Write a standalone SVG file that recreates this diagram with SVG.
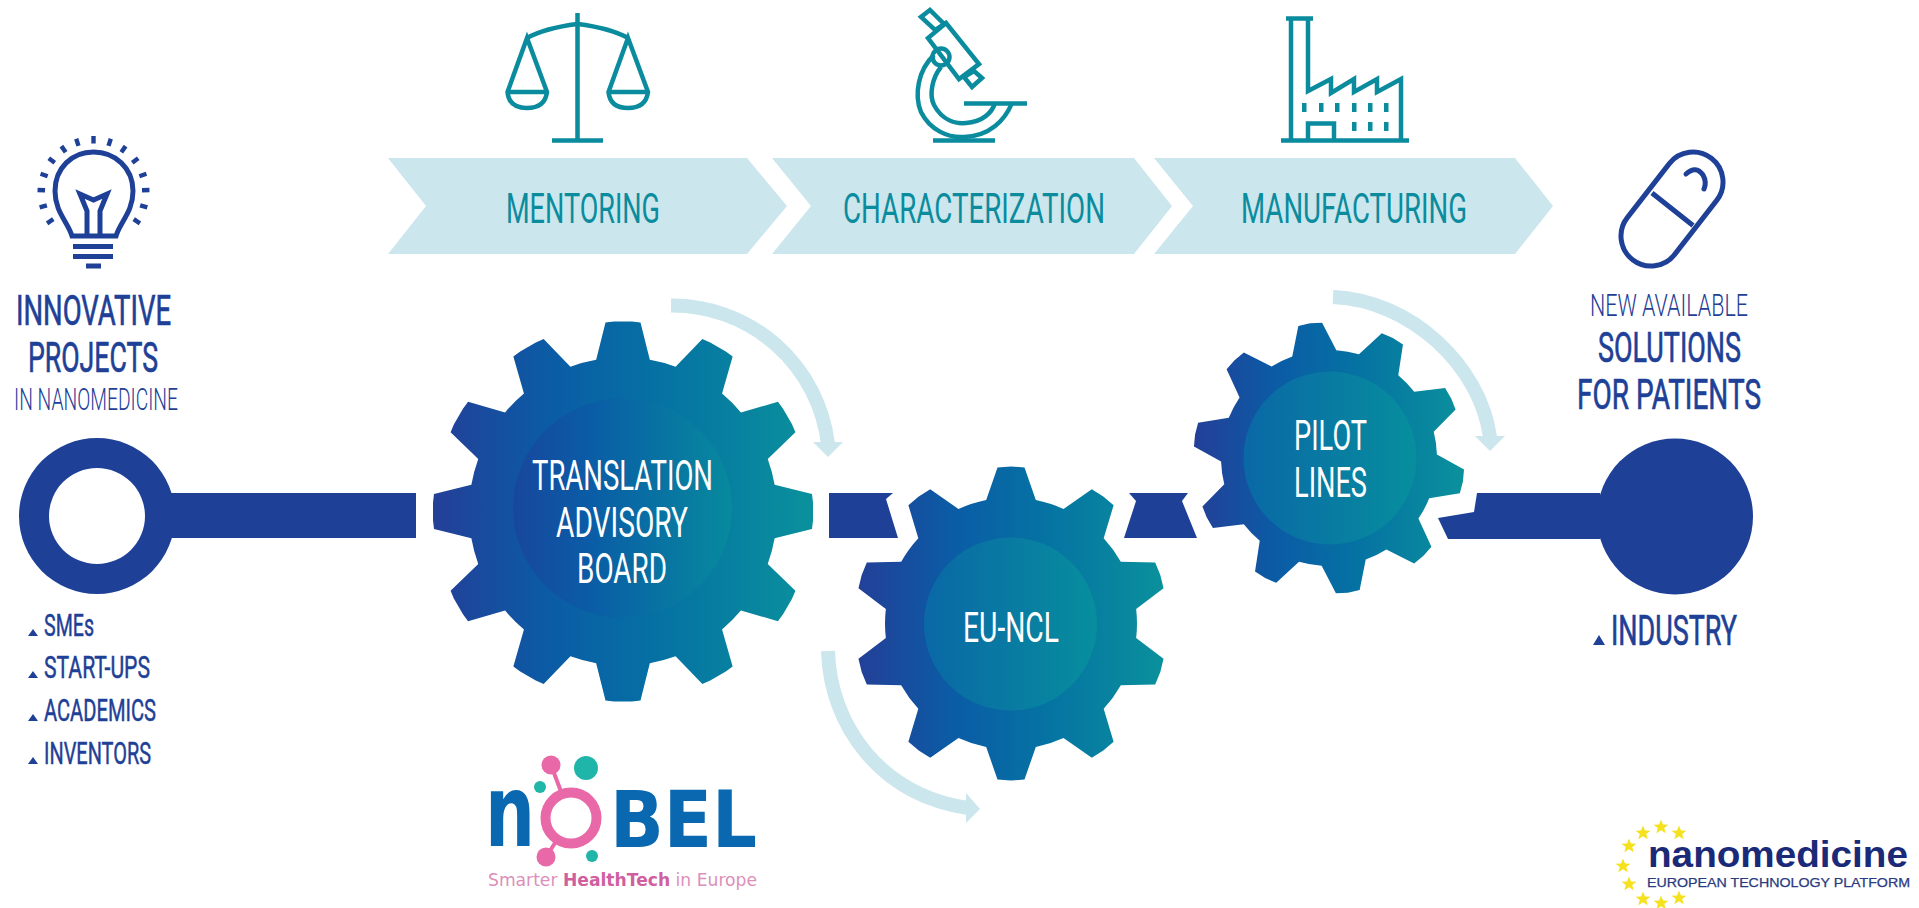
<svg xmlns="http://www.w3.org/2000/svg" width="1919" height="908" viewBox="0 0 1919 908">
<style>
text{font-family:Roboto,"Liberation Sans",sans-serif;text-anchor:middle}
.blue{fill:#1e4096}
.h1{fill:#1e4096;stroke:#1e4096;stroke-width:.7px;font-size:43px;font-weight:400}
.thin{fill:#1e4096;font-size:32px;font-weight:300}
.li{fill:#1e4096;stroke:#1e4096;stroke-width:.5px;font-size:32px;font-weight:400;text-anchor:start}
.step{fill:#0a8c9e;font-size:43px;font-weight:400}
.gear{fill:#fff;font-size:42px;font-weight:400}
.pale{fill:#cbe6ec}
.arc{fill:none;stroke:#cbe6ec;stroke-width:14}
.teal{fill:none;stroke:#0a8c9e;stroke-width:4.5}
.bl{fill:none;stroke:#1e4096;stroke-width:5}
</style>
<defs>
<linearGradient id="gr1" gradientUnits="userSpaceOnUse" x1="433" y1="0" x2="813" y2="0"><stop offset="0" stop-color="#243f98"/><stop offset=".3" stop-color="#0b5ba5"/><stop offset=".6" stop-color="#0572a3"/><stop offset="1" stop-color="#0a919c"/></linearGradient>
<linearGradient id="in1" gradientUnits="userSpaceOnUse" x1="513" y1="0" x2="732" y2="0"><stop offset="0" stop-color="#18479d"/><stop offset=".35" stop-color="#0a5ca6"/><stop offset="1" stop-color="#078a9e"/></linearGradient>
<linearGradient id="gr2" gradientUnits="userSpaceOnUse" x1="857" y1="0" x2="1165" y2="0"><stop offset="0" stop-color="#243f98"/><stop offset=".3" stop-color="#0b5ba5"/><stop offset=".6" stop-color="#0572a3"/><stop offset="1" stop-color="#0a919c"/></linearGradient>
<linearGradient id="in2" gradientUnits="userSpaceOnUse" x1="924" y1="0" x2="1097" y2="0"><stop offset="0" stop-color="#0a68a6"/><stop offset="1" stop-color="#078e9e"/></linearGradient>
<linearGradient id="gr3" gradientUnits="userSpaceOnUse" x1="1194" y1="0" x2="1464" y2="0"><stop offset="0" stop-color="#243f98"/><stop offset=".3" stop-color="#0b5ba5"/><stop offset=".6" stop-color="#0572a3"/><stop offset="1" stop-color="#0a919c"/></linearGradient>
<linearGradient id="in3" gradientUnits="userSpaceOnUse" x1="1244" y1="0" x2="1416" y2="0"><stop offset="0" stop-color="#0a68a6"/><stop offset="1" stop-color="#078e9e"/></linearGradient>
<polygon id="t1" points="-27,-151 -17.500,-189 -9,-190 9,-190 17.500,-189 27,-151"/>
<polygon id="t2" points="-25,-123 -13.500,-156 0,-157 13.500,-156 25,-123"/>
<polygon id="t3" points="-22.500,-105 -12,-135 0,-136 12,-135 22.500,-105"/>
<clipPath id="c1">
<circle cx="623" cy="511.500" r="154"/>
<use href="#t1" transform="translate(623 511.500)"/><use href="#t1" transform="translate(623 511.500) rotate(30)"/><use href="#t1" transform="translate(623 511.500) rotate(60)"/><use href="#t1" transform="translate(623 511.500) rotate(90)"/><use href="#t1" transform="translate(623 511.500) rotate(120)"/><use href="#t1" transform="translate(623 511.500) rotate(150)"/><use href="#t1" transform="translate(623 511.500) rotate(180)"/><use href="#t1" transform="translate(623 511.500) rotate(210)"/><use href="#t1" transform="translate(623 511.500) rotate(240)"/><use href="#t1" transform="translate(623 511.500) rotate(270)"/><use href="#t1" transform="translate(623 511.500) rotate(300)"/><use href="#t1" transform="translate(623 511.500) rotate(330)"/>
</clipPath>
<clipPath id="c2">
<circle cx="1011" cy="623.500" r="126"/>
<use href="#t2" transform="translate(1011 623.500)"/><use href="#t2" transform="translate(1011 623.500) rotate(36)"/><use href="#t2" transform="translate(1011 623.500) rotate(72)"/><use href="#t2" transform="translate(1011 623.500) rotate(108)"/><use href="#t2" transform="translate(1011 623.500) rotate(144)"/><use href="#t2" transform="translate(1011 623.500) rotate(180)"/><use href="#t2" transform="translate(1011 623.500) rotate(216)"/><use href="#t2" transform="translate(1011 623.500) rotate(252)"/><use href="#t2" transform="translate(1011 623.500) rotate(288)"/><use href="#t2" transform="translate(1011 623.500) rotate(324)"/>
</clipPath>
<clipPath id="c3">
<circle cx="1329" cy="458" r="108"/>
<use href="#t3" transform="translate(1329 458) rotate(-8)"/><use href="#t3" transform="translate(1329 458) rotate(28)"/><use href="#t3" transform="translate(1329 458) rotate(64)"/><use href="#t3" transform="translate(1329 458) rotate(100)"/><use href="#t3" transform="translate(1329 458) rotate(136)"/><use href="#t3" transform="translate(1329 458) rotate(172)"/><use href="#t3" transform="translate(1329 458) rotate(208)"/><use href="#t3" transform="translate(1329 458) rotate(244)"/><use href="#t3" transform="translate(1329 458) rotate(280)"/><use href="#t3" transform="translate(1329 458) rotate(316)"/>
</clipPath>
<polygon id="star" fill="#f5e11e" points="0,-7.500 2,-2.400 7.500,-2.300 3.200,1 4.700,6.200 0,3.200 -4.700,6.200 -3.200,1 -7.500,-2.300 -2,-2.400"/>
<rect id="ray" x="-2.200" y="-56" width="4.400" height="7.500" fill="#1e4096"/>
<rect id="win" width="4.500" height="9" fill="#0a8c9e"/>
</defs>
<rect width="1919" height="908" fill="#fff"/>

<g id="connectors">
<rect class="blue" x="170" y="493" width="246" height="45"/>
<polygon class="blue" points="829,493 893,493 886,499 898,538 829,538"/>
<polygon class="blue" points="1129,493 1188,493 1182,501 1197,538 1124,538 1136,501"/>
<polygon class="blue" points="1600,493 1477,493 1474,512 1438,518 1448,539 1600,539"/>
<path class="arc" d="M671 305.500A157 157 0 0 1 828 444"/>
<polygon class="pale" points="813,442 843,442 828,457"/>
<path class="arc" d="M828 651C830 725 880 795 968 808"/>
<polygon class="pale" points="966,793 966,823 980,809"/>
<path class="arc" d="M1333 297C1410 300 1480 365 1490 437"/>
<polygon class="pale" points="1475,436 1505,436 1490,451"/>
</g>

<g id="step-mentoring">
<polygon class="pale" points="388,158 747,158 787,206 747,254 388,254 426,206"/>
<text class="step" x="583" y="223" textLength="154" lengthAdjust="spacingAndGlyphs">MENTORING</text>
<g id="icon-scales">
<path class="teal" d="M577.500 13V140M552 140.500H603"/>
<path class="teal" stroke-width="6" d="M527 38Q545 28 577.500 24Q610 28 628 38"/>
<path class="teal" d="M527 38L507.500 92Q509 108 527 108Q545 108 547 92ZM507.500 92H547M628 38L608.500 92Q610 108 628 108Q646 108 648 92ZM608.500 92H648"/>
</g>
</g>
<g id="step-characterization">
<polygon class="pale" points="772,158 1134,158 1172,206 1134,254 772,254 811,206"/>
<text class="step" x="974" y="223" textLength="262" lengthAdjust="spacingAndGlyphs">CHARACTERIZATION</text>
<g id="icon-microscope">
<path class="teal" d="M930 10L944 24L935 30L921 17ZM946 23L979 64L959 79L928 38ZM974 71L982 78L972 87L964 77Z"/>
<circle class="teal" cx="941" cy="57" r="8.500"/>
<path class="teal" d="M934 55C918 70 914 95 921 112C930 130 948 138 964 137C990 136 1005 120 1012 103"/>
<path class="teal" d="M941 67C932 78 929 95 934 105C942 120 955 124 966 123C982 122 992 113 995 103"/>
<path class="teal" d="M964 103.500H1027M933 140.500H995"/>
</g>
</g>
<g id="step-manufacturing">
<polygon class="pale" points="1154,158 1515,158 1553,206 1515,254 1154,254 1193,206"/>
<text class="step" x="1354" y="223" textLength="226" lengthAdjust="spacingAndGlyphs">MANUFACTURING</text>
<g id="icon-factory">
<path class="teal" d="M1286 18.500H1313M1291 18.500V140M1308 18.500V91L1331 79V93L1354 79V92L1377 79V92L1401 79V140M1281 140.500H1409M1308 140V123.500H1334V140"/>
<use href="#win" x="1302" y="103"/><use href="#win" x="1319" y="103"/><use href="#win" x="1335" y="103"/><use href="#win" x="1352" y="103"/><use href="#win" x="1368" y="103"/><use href="#win" x="1384" y="103"/><use href="#win" x="1352" y="122"/><use href="#win" x="1368" y="122"/><use href="#win" x="1384" y="122"/>
</g>
</g>

<g id="start-innovative">
<path class="bl" d="M72 236C68 222 55 212 55 191C55 168 72 152 93.500 152C115 152 133 168 133 191C133 212 120 222 116 236Z"/>
<path class="bl" d="M87 236V211L80 194L93.500 200L107 194L100 211V236M73 246.500H113M73 256.500H113M86 266H101"/>
<g transform="translate(93.500 192)"><use href="#ray" transform="rotate(-124)"/><use href="#ray" transform="rotate(-106)"/><use href="#ray" transform="rotate(-88)"/><use href="#ray" transform="rotate(-71)"/><use href="#ray" transform="rotate(-53)"/><use href="#ray" transform="rotate(-35)"/><use href="#ray" transform="rotate(-18)"/><use href="#ray"/><use href="#ray" transform="rotate(18)"/><use href="#ray" transform="rotate(35)"/><use href="#ray" transform="rotate(53)"/><use href="#ray" transform="rotate(71)"/><use href="#ray" transform="rotate(88)"/><use href="#ray" transform="rotate(106)"/><use href="#ray" transform="rotate(124)"/></g>
<text class="h1" x="93.500" y="325" textLength="155" lengthAdjust="spacingAndGlyphs">INNOVATIVE</text>
<text class="h1" x="93" y="372" textLength="130" lengthAdjust="spacingAndGlyphs">PROJECTS</text>
<text class="thin" x="96" y="410" textLength="164" lengthAdjust="spacingAndGlyphs">IN NANOMEDICINE</text>
<path class="blue" fill-rule="evenodd" d="M19 516a78 78 0 1 0 156 0a78 78 0 1 0 -156 0ZM49 516a48 48 0 1 0 96 0a48 48 0 1 0 -96 0Z"/>
<path class="blue" d="M28 636L33 629L38 636ZM28 678L33 671L38 678ZM28 721L33 714L38 721ZM28 764L33 757L38 764Z"/>
<text class="li" x="44" y="636" textLength="50" lengthAdjust="spacingAndGlyphs">SMEs</text>
<text class="li" x="44" y="678" textLength="106" lengthAdjust="spacingAndGlyphs">START-UPS</text>
<text class="li" x="44" y="721" textLength="112" lengthAdjust="spacingAndGlyphs">ACADEMICS</text>
<text class="li" x="44" y="764" textLength="107" lengthAdjust="spacingAndGlyphs">INVENTORS</text>
</g>

<g id="gear-translation">
<rect x="420" y="310" width="405" height="405" fill="url(#gr1)" clip-path="url(#c1)"/>
<circle cx="622.500" cy="508" r="109.500" fill="url(#in1)"/>
<text class="gear" x="622.500" y="490" textLength="181" lengthAdjust="spacingAndGlyphs">TRANSLATION</text>
<text class="gear" x="622" y="537" textLength="132" lengthAdjust="spacingAndGlyphs">ADVISORY</text>
<text class="gear" x="622" y="583" textLength="90" lengthAdjust="spacingAndGlyphs">BOARD</text>
</g>
<g id="gear-euncl">
<rect x="850" y="460" width="325" height="330" fill="url(#gr2)" clip-path="url(#c2)"/>
<circle cx="1010.500" cy="624" r="86.500" fill="url(#in2)"/>
<text class="gear" x="1011" y="642" textLength="96" lengthAdjust="spacingAndGlyphs">EU-NCL</text>
</g>
<g id="gear-pilot">
<rect x="1185" y="315" width="285" height="285" fill="url(#gr3)" clip-path="url(#c3)"/>
<circle cx="1330" cy="458" r="86.500" fill="url(#in3)"/>
<text class="gear" x="1330.500" y="450" textLength="73" lengthAdjust="spacingAndGlyphs">PILOT</text>
<text class="gear" x="1330.500" y="497" textLength="73" lengthAdjust="spacingAndGlyphs">LINES</text>
</g>

<g id="end-solutions">
<path class="bl" d="M1669.300 163.600A30 30 0 0 1 1716.700 200.400L1674.700 254.400A30 30 0 0 1 1627.300 217.600ZM1652 193L1693 225.500"/>
<path class="bl" stroke-linecap="round" d="M1686 174Q1696 165 1703 175Q1707 182 1704 189"/>
<text class="thin" x="1669" y="316" textLength="158" lengthAdjust="spacingAndGlyphs">NEW AVAILABLE</text>
<text class="h1" x="1669.500" y="362" textLength="143" lengthAdjust="spacingAndGlyphs">SOLUTIONS</text>
<text class="h1" x="1669" y="409" textLength="184" lengthAdjust="spacingAndGlyphs">FOR PATIENTS</text>
<circle class="blue" cx="1675" cy="516.500" r="78"/>
<path class="blue" d="M1593 645L1599 635L1605 645Z"/>
<text class="h1" style="text-anchor:start" x="1611" y="645" textLength="126" lengthAdjust="spacingAndGlyphs">INDUSTRY</text>
</g>

<g id="logo-nobel">
<path d="M551 765L571 818L546 857" fill="none" stroke="#e868a8" stroke-width="4"/>
<circle cx="551" cy="765" r="9.500" fill="#e868a8"/>
<circle cx="546" cy="857" r="9.500" fill="#e868a8"/>
<circle cx="571" cy="818" r="25.500" fill="#fff" stroke="#e868a8" stroke-width="10"/>
<circle cx="586" cy="768" r="12" fill="#1fb5a8"/>
<circle cx="540" cy="787" r="6" fill="#1fb5a8"/>
<circle cx="592" cy="856" r="6" fill="#1fb5a8"/>
<text x="510" y="846" font-size="100" fill="#0a68b0" textLength="50" lengthAdjust="spacingAndGlyphs" style="font-family:'DejaVu Sans',sans-serif;font-weight:700">n</text>
<text x="683.500" y="847" font-size="78" fill="#0a68b0" textLength="147" lengthAdjust="spacingAndGlyphs" style="font-family:'DejaVu Sans',sans-serif;font-weight:700">BEL</text>
<text x="622.500" y="886" font-size="17" fill="#dc8fba" textLength="269" lengthAdjust="spacingAndGlyphs" style="font-family:'DejaVu Sans',sans-serif">Smarter <tspan font-weight="700" fill="#cf5f9f">HealthTech</tspan> in Europe</text>
</g>

<g id="logo-nanomedicine">
<use href="#star" x="1643" y="833"/><use href="#star" x="1661" y="827"/><use href="#star" x="1679" y="833"/><use href="#star" x="1629" y="846"/><use href="#star" x="1623" y="866"/><use href="#star" x="1629" y="884"/><use href="#star" x="1643" y="899"/><use href="#star" x="1661" y="903"/><use href="#star" x="1679" y="898"/>
<text x="1778" y="867" font-size="36.500" fill="#1a2a78" textLength="260" lengthAdjust="spacingAndGlyphs" style="font-family:'Liberation Sans',sans-serif;font-weight:700">nanomedicine</text>
<text x="1778.500" y="887" font-size="12.500" fill="#2a3a80" stroke="#2a3a80" stroke-width=".25" textLength="263" lengthAdjust="spacingAndGlyphs" style="font-family:'Liberation Sans',sans-serif">EUROPEAN TECHNOLOGY PLATFORM</text>
</g>
</svg>
